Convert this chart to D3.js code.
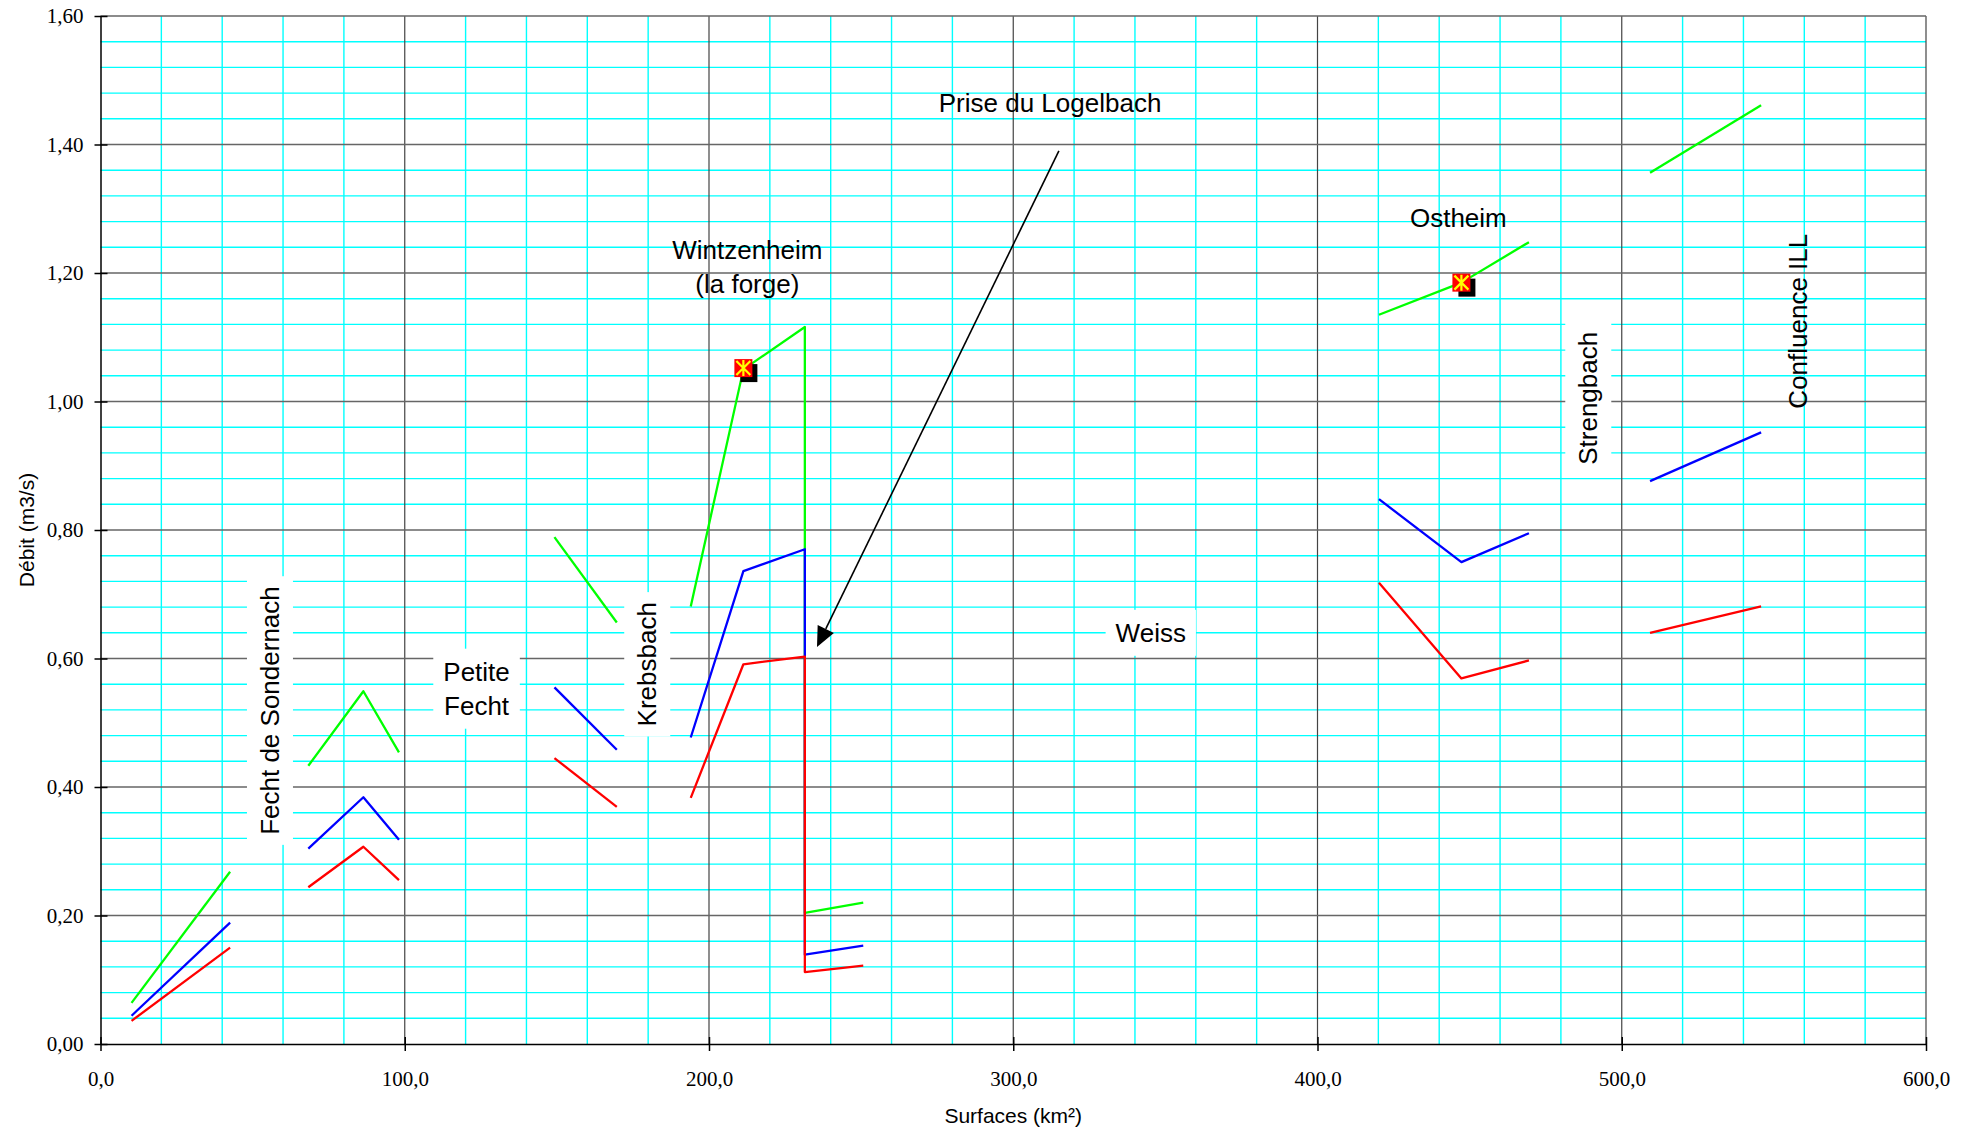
<!DOCTYPE html>
<html>
<head>
<meta charset="utf-8">
<script src="https://cdn.jsdelivr.net/npm/d3@7"></script>
<style>
  html, body { margin: 0; padding: 0; background: #ffffff; }
  svg { display: block; }
  .serif text { font-family: "Liberation Serif", "DejaVu Serif", serif; }
</style>
</head>
<body>
<svg id="chart" width="1975" height="1130"></svg>
<script>
// ---------------- DATA ----------------
// Segments: shared x (surface, km²) and three series values (débit, m3/s)
const seg1X = [10.2, 42.6];
const seg1Green = [0.064, 0.268];
const seg1Blue = [0.044, 0.189];
const seg1Red = [0.036, 0.150];

const seg2X = [68.3, 86.4, 98.1];
const seg2Green = [0.433, 0.549, 0.454];
const seg2Blue = [0.304, 0.384, 0.318];
const seg2Red = [0.244, 0.307, 0.255];

const seg3X = [149.2, 169.7];
const seg3Green = [0.789, 0.656];
const seg3Blue = [0.555, 0.458];
const seg3Red = [0.445, 0.369];

const seg4X = [194.0, 211.3, 231.5, 231.5, 250.7];
const seg4Green = [0.681, 1.050, 1.116, 0.204, 0.220];
const seg4Blue = [0.477, 0.736, 0.770, 0.139, 0.153];
const seg4Red = [0.383, 0.591, 0.603, 0.112, 0.122];

const seg5X = [420.2, 447.3, 469.5];
const seg5Green = [1.135, 1.185, 1.248];
const seg5Blue = [0.848, 0.750, 0.795];
const seg5Red = [0.718, 0.569, 0.597];

const seg6X = [509.3, 545.8];
const seg6Green = [1.356, 1.461];
const seg6Blue = [0.876, 0.952];
const seg6Red = [0.640, 0.681];

// Measured points (stations)
const stationX = [211.3, 447.3];
const stationY = [1.052, 1.185];

// Axis ticks
const xTicks = [0, 100, 200, 300, 400, 500, 600];
const yTicks = [0, 0.2, 0.4, 0.6, 0.8, 1.0, 1.2, 1.4, 1.6];

// Annotations (text, anchor in data units)
const labelTexts = ["Prise du Logelbach", "Wintzenheim\n(la forge)", "Ostheim", "Weiss", "Petite\nFecht", "Fecht de Sondernach", "Krebsbach", "Strengbach", "Confluence ILL"];
const labelX = [312.1, 212.6, 446.3, 345.2, 123.6, 55.7, 179.7, 489.0, 558.0];
const labelY = [1.4645, 1.21, 1.286, 0.640, 0.553, 0.519, 0.591, 1.005, 1.125];
const labelRotated = [false, false, false, false, false, true, true, true, true];
const labelBoxed = [false, false, false, true, true, true, true, true, false];

// Arrow "Prise du Logelbach"
const arrowFrom = [315.0, 1.39];
const arrowTo = [235.5, 0.618];

// ---------------- CHART ----------------
const W = 1975, H = 1130;
const margin = { left: 100.5, right: W - 1926, top: 16, bottom: H - 1044 };
const svg = d3.select("#chart");

const x = d3.scaleLinear().domain([0, 600]).range([margin.left, W - margin.right]);
const y = d3.scaleLinear().domain([0, 1.6]).range([H - margin.bottom, margin.top]);

const gGrid = svg.append("g");
// minor grid
const xMinor = d3.range(0, 601, 20).filter(v => v % 100 !== 0);
const yMinor = d3.range(0, 41, 1).map(i => +(i * 0.04).toFixed(2)).filter(v => Math.abs(v * 5 - Math.round(v * 5)) > 1e-6);
gGrid.selectAll("line.xm").data(xMinor).join("line")
  .attr("x1", d => x(d)).attr("x2", d => x(d))
  .attr("y1", y(0)).attr("y2", y(1.6))
  .attr("stroke", "#00FFFF").attr("stroke-width", 1.4);
gGrid.selectAll("line.ym").data(yMinor).join("line")
  .attr("y1", d => y(d)).attr("y2", d => y(d))
  .attr("x1", x(0)).attr("x2", x(600))
  .attr("stroke", "#00FFFF").attr("stroke-width", 1.4);
// major grid
gGrid.selectAll("line.xM").data(xTicks.slice(1)).join("line")
  .attr("x1", d => x(d)).attr("x2", d => x(d))
  .attr("y1", y(0)).attr("y2", y(1.6))
  .attr("stroke", "#444").attr("stroke-width", 1.2);
gGrid.selectAll("line.yM").data(yTicks.slice(1)).join("line")
  .attr("y1", d => y(d)).attr("y2", d => y(d))
  .attr("x1", x(0)).attr("x2", x(600))
  .attr("stroke", "#666").attr("stroke-width", 1.6);

// label boxes layer (drawn after grid)
const gBoxes = svg.append("g");

// axes
const fmtX = v => d3.format(".1f")(v).replace(".", ",");
const fmtY = v => d3.format(".2f")(v).replace(".", ",");

const xAxis = d3.axisBottom(x).tickValues(xTicks).tickFormat(fmtX).tickSizeInner(7).tickSizeOuter(0).tickPadding(20);
const gx = svg.append("g").attr("class", "serif").attr("transform", `translate(0,${y(0)})`).call(xAxis);
gx.attr("font-family", null).attr("font-size", null);
gx.select(".domain").attr("stroke", "#000").attr("stroke-width", 1.5);
gx.selectAll(".tick line").attr("stroke", "#000").attr("stroke-width", 1.5).attr("y1", -7);
gx.selectAll(".tick text").style("font-family", "'Liberation Serif', 'DejaVu Serif', serif").style("font-size", "21px").attr("fill", "#000");

const yAxis = d3.axisLeft(y).tickValues(yTicks).tickFormat(fmtY).tickSizeInner(6).tickSizeOuter(0).tickPadding(11);
const gy = svg.append("g").attr("class", "serif").attr("transform", `translate(${x(0)},0)`).call(yAxis);
gy.attr("font-family", null).attr("font-size", null);
gy.select(".domain").attr("stroke", "#000").attr("stroke-width", 1.5);
gy.selectAll(".tick line").attr("stroke", "#000").attr("stroke-width", 1.5).attr("x1", 7);
gy.selectAll(".tick text").style("font-family", "'Liberation Serif', 'DejaVu Serif', serif").style("font-size", "21px").attr("fill", "#000");

// axis titles
svg.append("text").attr("x", x(300)).attr("y", 1115).attr("text-anchor", "middle").attr("dominant-baseline", "central")
  .style("font-family", "'Liberation Sans', Arial, sans-serif").style("font-size", "21px").text("Surfaces (km²)");
svg.append("text").attr("transform", `translate(26,${(y(0) + y(1.6)) / 2}) rotate(-90)`)
  .attr("text-anchor", "middle").attr("dominant-baseline", "central")
  .style("font-family", "'Liberation Sans', Arial, sans-serif").style("font-size", "21px").text("Débit (m3/s)");

// series
const segments = [
  { xs: seg1X, g: seg1Green, b: seg1Blue, r: seg1Red },
  { xs: seg2X, g: seg2Green, b: seg2Blue, r: seg2Red },
  { xs: seg3X, g: seg3Green, b: seg3Blue, r: seg3Red },
  { xs: seg4X, g: seg4Green, b: seg4Blue, r: seg4Red },
  { xs: seg5X, g: seg5Green, b: seg5Blue, r: seg5Red },
  { xs: seg6X, g: seg6Green, b: seg6Blue, r: seg6Red }
];
const line = d3.line().x(d => x(d[0])).y(d => y(d[1]));
const gLines = svg.append("g").attr("fill", "none").attr("stroke-width", 2.3).attr("stroke-linejoin", "round");
const seriesDefs = [["g", "#00FF00"], ["b", "#0000FF"], ["r", "#FF0000"]];
seriesDefs.forEach(([key, col]) => {
  segments.forEach(s => {
    gLines.append("path").attr("d", line(s.xs.map((v, i) => [v, s[key][i]]))).attr("stroke", col);
  });
});

// station markers
const gMarks = svg.append("g");
stationX.forEach((sx, i) => {
  const cx = x(sx), cy = y(stationY[i]);
  gMarks.append("rect").attr("x", cx - 3).attr("y", cy - 4).attr("width", 17).attr("height", 18).attr("fill", "#000");
  gMarks.append("rect").attr("x", cx - 9).attr("y", cy - 9).attr("width", 18).attr("height", 18).attr("fill", "#FF0000");
  const p = 7;
  gMarks.append("path").attr("d", `M${cx - p},${cy - p}L${cx + p},${cy + p}M${cx - p},${cy + p}L${cx + p},${cy - p}M${cx},${cy - 8}L${cx},${cy + 8}`)
    .attr("stroke", "#FFFF00").attr("stroke-width", 2.2).attr("fill", "none");
});

// arrow
const ax1 = x(arrowFrom[0]), ay1 = y(arrowFrom[1]), ax2 = x(arrowTo[0]), ay2 = y(arrowTo[1]);
const ang = Math.atan2(ay2 - ay1, ax2 - ax1);
const headLen = 20, headW = 9;
const bx = ax2 - headLen * Math.cos(ang), by = ay2 - headLen * Math.sin(ang);
svg.append("line").attr("x1", ax1).attr("y1", ay1).attr("x2", bx).attr("y2", by).attr("stroke", "#000").attr("stroke-width", 1.6);
svg.append("path").attr("d",
  `M${ax2},${ay2}L${bx + headW * Math.sin(ang)},${by - headW * Math.cos(ang)}L${bx - headW * Math.sin(ang)},${by + headW * Math.cos(ang)}Z`)
  .attr("fill", "#000");

// labels
const gLabels = svg.append("g").style("font-family", "'Liberation Sans', Arial, sans-serif").style("font-size", "26px").attr("fill", "#000");
labelTexts.forEach((t, i) => {
  const cx = x(labelX[i]), cy = y(labelY[i]);
  const lines = t.split("\n");
  const lh = 34;
  const txt = gLabels.append("text").attr("text-anchor", "middle")
    .attr("transform", labelRotated[i] ? `translate(${cx},${cy}) rotate(-90)` : `translate(${cx},${cy})`);
  lines.forEach((ln, j) => {
    txt.append("tspan").attr("x", 0).attr("y", (j - (lines.length - 1) / 2) * lh).attr("dy", "0.35em").text(ln);
  });
  if (labelBoxed[i]) {
    const bb = txt.node().getBBox();
    const padL = 10, padT = 8;
    const w = bb.width + 2 * padL, h = bb.height + 2 * padT;
    if (labelRotated[i]) {
      gBoxes.append("rect").attr("x", cx - h / 2).attr("y", cy - w / 2).attr("width", h).attr("height", w).attr("fill", "#fff");
    } else {
      gBoxes.append("rect").attr("x", cx - w / 2).attr("y", cy - h / 2).attr("width", w).attr("height", h).attr("fill", "#fff");
    }
  }
});
</script>
</body>
</html>
